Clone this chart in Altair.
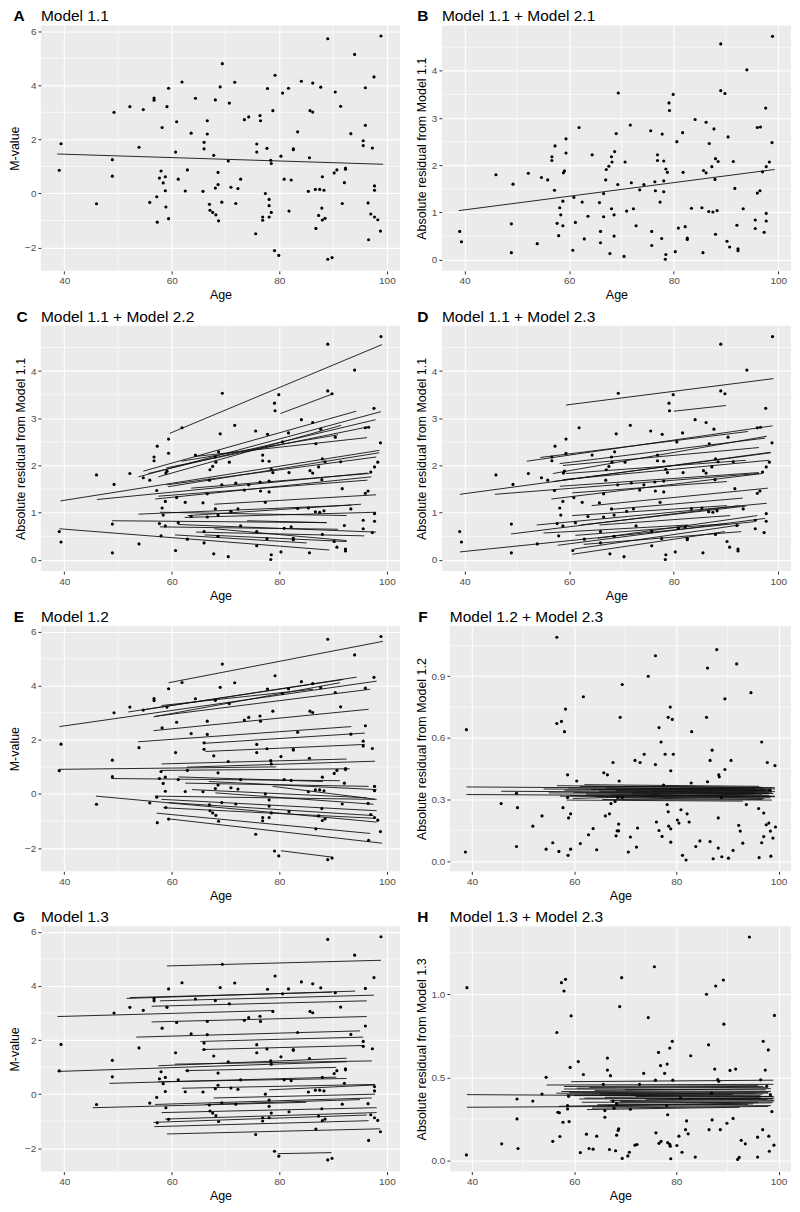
import altair as alt
import pandas as pd

FONT = "Liberation Sans"

# ---------------- shared axis ticks ----------------
X_DOMAIN = [35.66, 102.44]
X_MAJOR = [40, 60, 80, 100]
X_MINOR = [50, 70, 90]

M_DOMAIN = [-2.86, 6.21]
M_MAJOR = [-2, 0, 2, 4, 6]
M_MINOR = [-1, 1, 3, 5]

R1_DOMAIN = [-0.236, 4.96]
R1_MAJOR = [0, 1, 2, 3, 4]
R1_MINOR = [0.5, 1.5, 2.5, 3.5, 4.5]

R2_DOMAIN = [-0.05, 1.145]
R2_MAJOR = [0.0, 0.3, 0.6, 0.9]
R2_MINOR = [0.15, 0.45, 0.75, 1.05]

R3_DOMAIN = [-0.067, 1.41]
R3_MAJOR = [0.0, 0.5, 1.0]
R3_MINOR = [0.25, 0.75, 1.25]

# ---------------- subjects: age and M-value ----------------
age = [39.07, 39.4, 46.0, 48.95, 48.95, 49.26, 52.2, 53.9, 54.7, 55.9,
       56.7, 56.7, 57.2, 57.3, 57.7, 58.0, 58.2, 58.4, 58.8, 58.8,
       58.9, 59.1, 59.4, 59.4, 60.7, 60.9, 61.2, 61.9, 62.5, 62.9,
       63.6, 64.4, 65.8, 66.0, 66.0, 66.6, 66.6, 67.0, 67.1, 67.6,
       67.8, 68.1, 68.1, 68.2, 68.6, 68.6, 68.7, 69.0, 69.3, 69.4,
       70.5, 70.7, 71.0, 71.7, 71.9, 72.3, 72.8, 73.5, 74.3, 75.6,
       75.8, 75.8, 76.4, 76.5, 76.9, 76.9, 77.4, 77.7, 77.8, 78.1,
       78.1, 78.1, 78.4, 78.5, 78.5, 78.8, 79.1, 79.2, 79.9, 80.3,
       80.6, 80.9, 81.7, 81.8, 82.2, 82.6, 82.6, 83.4, 84.1, 85.4,
       85.6, 85.7, 86.2, 86.2, 86.7, 86.8, 87.3, 87.5, 87.7, 87.9,
       88.0, 88.0, 88.3, 88.5, 89.0, 89.0, 89.8, 90.2, 90.4, 90.7,
       91.4, 91.7, 92.1, 92.3, 92.3, 93.3, 94.0, 95.6, 95.6, 96.0,
       96.0, 96.5, 96.6, 97.0, 97.3, 97.6, 97.7, 97.7, 97.7, 98.3,
       98.8, 98.9]

m_value = [0.86, 1.84, -0.38, 1.25, 0.64, 3.0, 3.21, 1.71, 3.10, -0.33,
           3.53, 3.45, -0.12, -1.06, 0.57, 0.83, 2.44, 0.39, 0.62, 0.10,
           -0.50, 3.21, 3.89, -0.93, 1.53, 2.65, 0.53, 4.12, 0.09, 0.87,
           2.23, 3.52, 0.08, 1.89, 1.65, 2.69, 2.20, -0.40, -0.62, -0.70,
           1.41, 3.46, 0.20, -0.79, 0.78, 0.33, -1.01, 3.94, -0.32, 4.80,
           1.20, 3.34, 0.23, 4.11, -0.37, 0.18, 0.53, 2.73, 2.83, -1.49,
           1.83, 1.53, 2.88, 2.69, -0.87, -0.99, 0.00, 1.67, 3.88, -0.22,
           -0.45, -0.87, 1.23, 1.11, -0.70, 3.06, -2.11, 4.37, -2.29, 1.38,
           3.71, 0.53, 3.89, -0.65, 0.50, 1.65, 1.62, 2.28, 4.15, 0.08,
           1.32, 3.06, 4.08, 3.01, 0.15, -1.29, -0.81, 0.15, 3.93, -0.54,
           0.62, -0.98, 0.12, -0.92, 5.72, -2.43, -2.37, 0.76, 3.75, 0.87,
           3.22, -0.37, 0.40, 0.94, 0.90, 2.21, 5.14, 1.95, 1.77, 3.91,
           2.52, -0.35, -1.71, -0.76, 1.68, 4.31, 0.28, 0.12, -0.87, -0.97,
           -1.39, 5.82]

# absolute residual from Model 1.1
resid_11 = [0.60, 0.38, 1.80, 0.15, 0.76, 1.60, 1.83, 0.34, 1.74, 1.69,
            2.18, 2.10, 1.47, 2.41, 0.77, 0.51, 1.10, 0.95, 0.72, 1.24,
            1.84, 1.88, 2.56, 2.26, 0.20, 1.32, 0.79, 2.80, 1.22, 0.44,
            0.92, 2.22, 1.21, 0.60, 0.36, 1.40, 0.91, 1.69, 1.91, 1.98,
            0.13, 2.18, 1.08, 2.07, 0.50, 0.95, 2.29, 2.67, 1.59, 3.53,
            0.07, 2.07, 1.03, 2.85, 1.63, 1.08, 0.72, 1.48, 1.59, 2.73,
            0.60, 0.30, 1.65, 1.46, 2.10, 2.22, 1.22, 0.45, 2.66, 1.44,
            1.67, 2.09, 0.01, 0.11, 1.92, 1.85, 3.32, 3.16, 3.50, 0.17,
            2.50, 0.67, 2.69, 1.85, 0.70, 0.46, 0.43, 1.09, 2.97, 1.10,
            0.15, 1.89, 2.91, 1.84, 1.02, 2.46, 1.97, 1.01, 2.77, 1.70,
            0.54, 2.14, 1.04, 2.08, 4.57, 3.58, 3.52, 0.39, 2.60, 0.27,
            2.08, 1.51, 0.73, 0.19, 0.23, 1.08, 4.02, 0.84, 0.66, 2.80,
            1.41, 1.46, 2.81, 1.86, 0.58, 3.21, 0.82, 0.98, 1.97, 2.07,
            2.48, 4.73]

# absolute residual from Model 1.2 (panel F)
f_age = [38.7, 38.9, 45.7, 48.7, 48.7, 48.9, 51.9, 53.7, 54.5, 55.8,
         56.6, 56.6, 57.0, 57.5, 57.8, 58.1, 58.3, 58.7, 58.7, 58.8,
         58.9, 59.3, 59.3, 60.5, 61.2, 61.8, 62.8, 63.7, 64.4, 65.8,
         66.1, 66.5, 66.9, 67.2, 67.6, 68.0, 68.2, 68.4, 68.5, 68.7,
         68.7, 68.8, 69.0, 69.4, 69.4, 70.6, 71.0, 71.9, 72.2, 72.4,
         72.9, 73.7, 74.5, 75.9, 75.9, 76.1, 76.6, 76.6, 77.0, 77.2,
         77.5, 77.8, 78.2, 78.4, 78.4, 78.5, 78.8, 78.9, 78.9, 78.9,
         79.2, 79.4, 80.2, 80.5, 80.9, 81.2, 81.9, 82.1, 82.5, 82.9,
         83.0, 83.8, 84.6, 85.9, 86.1, 86.1, 86.6, 86.6, 87.0, 87.2,
         87.9, 88.2, 88.2, 88.3, 88.4, 88.8, 88.9, 89.5, 89.5, 90.2,
         90.7, 91.1, 91.8, 92.2, 92.5, 93.0, 93.7, 94.6, 96.1, 96.2,
         96.7, 96.7, 97.1, 97.1, 97.6, 97.8, 98.1, 98.3, 98.4, 98.5,
         98.9, 99.3, 99.4]
resid_12 = [0.044, 0.64, 0.28, 0.071, 0.33, 0.26, 0.17, 0.22, 0.058, 0.089,
            1.09, 0.67, 0.047, 0.68, 0.26, 0.63, 0.74, 0.42, 0.31, 0.028,
            0.21, 0.058, 0.23, 0.39, 0.085, 0.80, 0.128, 0.158, 0.055, 0.43,
            0.22, 0.42, 0.23, 0.28, 0.48, 0.29, 0.123, 0.147, 0.31, 0.18,
            0.147, 0.39, 0.70, 0.86, 0.31, 0.044, 0.117, 0.49, 0.068, 0.161,
            0.48, 0.52, 0.90, 1.00, 0.47, 0.19, 0.65, 0.149, 0.58, 0.12,
            0.37, 0.52, 0.275, 0.24, 0.70, 0.17, 0.75, 0.157, 0.44, 0.092,
            0.69, 0.52, 0.20, 0.185, 0.25, 0.028, 0.005, 0.23, 0.19, 0.38,
            0.63, 0.071, 0.098, 0.70, 0.386, 0.94, 0.095, 0.49, 0.54, 0.011,
            1.03, 0.063, 0.21, 0.42, 0.41, 0.31, 0.021, 0.446, 0.79, 0.014,
            0.49, 0.052, 0.96, 0.174, 0.146, 0.087, 0.275, 0.82, 0.256, 0.017,
            0.58, 0.089, 0.234, 0.119, 0.177, 0.48, 0.185, 0.345, 0.146, 0.024,
            0.112, 0.465, 0.166]

# absolute residual from Model 1.3 (panel H)
h_age = [38.9, 39.0, 45.8, 48.8, 48.8, 49.0, 51.9, 53.7, 54.5, 55.8,
         56.6, 56.8, 57.1, 57.2, 57.5, 57.8, 58.0, 58.3, 58.7, 58.7,
         58.9, 59.0, 59.2, 59.4, 60.8, 61.2, 61.8, 62.4, 62.9, 63.7,
         64.4, 65.7, 66.0, 66.0, 66.5, 66.5, 66.9, 67.1, 67.6, 67.8,
         68.1, 68.3, 68.3, 68.6, 68.7, 68.9, 69.3, 69.4, 70.5, 70.8,
         71.0, 71.9, 72.3, 72.8, 73.6, 74.5, 75.7, 75.9, 76.0, 76.5,
         76.6, 76.9, 77.0, 77.7, 78.1, 78.2, 78.3, 78.3, 78.7, 78.7,
         78.8, 78.9, 79.2, 79.3, 80.1, 80.5, 80.8, 81.1, 81.8, 82.0,
         82.3, 82.8, 83.7, 85.9, 86.3, 86.4, 86.9, 87.0, 87.5, 87.7,
         88.1, 88.3, 88.6, 89.2, 89.3, 89.9, 90.5, 91.1, 91.6, 92.0,
         92.3, 92.7, 93.5, 94.3, 95.9, 95.9, 96.5, 96.9, 97.0, 97.4,
         97.7, 98.0, 98.1, 98.2, 98.4, 98.7, 99.1, 99.2]
resid_13 = [0.033, 1.04, 0.10, 0.37, 0.25, 0.072, 0.357, 0.40, 0.50, 0.115,
            0.77, 0.29, 0.287, 0.144, 1.07, 0.23, 1.02, 1.09, 0.33, 0.31,
            0.386, 0.234, 0.56, 0.87, 0.595, 0.047, 0.517, 0.158, 0.072, 0.068,
            0.146, 0.458, 0.30, 0.26, 0.616, 0.544, 0.066, 0.51, 0.357, 0.314,
            0.058, 0.152, 0.34, 0.18, 0.19, 0.926, 1.10, 0.012, 0.027, 0.049,
            0.308, 0.092, 0.096, 0.458, 0.524, 0.86, 1.166, 0.483, 0.166, 0.65,
            0.103, 0.571, 0.115, 0.524, 0.33, 0.58, 0.275, 0.107, 0.676, 0.097,
            0.086, 0.01, 0.717, 0.483, 0.09, 0.146, 0.376, 0.049, 0.185, 0.238,
            0.16, 0.63, 0.02, 1.0, 0.696, 0.185, 0.405, 0.244, 0.55, 1.05,
            0.487, 0.476, 0.185, 1.086, 0.82, 0.224, 0.542, 0.253, 0.55, 0.006,
            0.018, 0.121, 0.10, 1.345, 0.14, 0.02, 0.485, 0.185, 0.717, 0.544,
            0.446, 0.665, 0.146, 0.055, 0.396, 0.294, 0.092, 0.873]

# ---------------- fitted line segments (start/end age and value) ----------------
a_x1, a_y1, a_x2, a_y2 = [38.7], [1.46], [99.3], [1.08]
b_x1, b_y1, b_x2, b_y2 = [38.9], [1.04], [99.3], [1.91]

c_x1 = [59.6, 80.2, 54.7, 53.8, 55.6, 57.5, 59.0, 61.8, 64.2, 39.3, 59.0, 46.1, 56.9, 57.5, 63.6,
        67.9, 53.8, 62.4, 57.8, 48.9, 61.2, 57.8, 64.5, 67.9, 39.1, 66.1, 74.0, 60.6, 63.0, 59.3]
c_y1 = [2.68, 3.10, 1.88, 1.76, 1.83, 1.76, 1.95, 2.09, 2.19, 1.25, 1.59, 1.28, 1.29, 1.35, 1.52,
        1.18, 0.97, 0.90, 1.01, 0.83, 0.75, 0.70, 0.59, 0.66, 0.66, 0.53, 0.83, 0.53, 0.94, 1.55]
c_x2 = [99.1, 90.0, 94.3, 98.9, 97.9, 91.5, 96.6, 90.9, 96.3, 98.6, 98.0, 96.4, 97.1, 96.4, 96.7,
        98.0, 93.4, 98.0, 92.5, 88.8, 98.0, 90.9, 95.8, 92.5, 89.3, 92.5, 88.8, 85.1, 95.2, 98.6]
c_y2 = [4.56, 3.52, 3.15, 3.14, 2.97, 2.85, 2.82, 2.65, 2.59, 2.32, 2.18, 1.84, 1.76, 1.69, 1.83,
        1.38, 1.16, 1.01, 0.94, 0.79, 0.59, 0.65, 0.51, 0.41, 0.21, 0.39, 0.79, 0.36, 1.18, 2.27]

d_x1 = [59.4, 80.0, 39.1, 45.8, 51.9, 54.5, 56.9, 58.2, 58.8, 56.9, 58.8, 58.2, 56.6, 60.6, 64.3,
        68.0, 53.8, 48.9, 60.6, 62.2, 65.8, 39.1, 57.8, 60.9, 60.6, 62.8, 65.5, 61.2, 55.1, 59.4]
d_y1 = [3.28, 3.15, 1.39, 1.39, 2.09, 2.17, 1.83, 2.04, 2.00, 1.66, 1.70, 1.56, 1.29, 1.42, 1.15,
        1.07, 0.74, 0.55, 0.94, 0.74, 0.74, 0.17, 0.31, 0.23, 0.12, 0.33, 0.46, 0.52, 0.57, 1.83]
d_x2 = [99.1, 90.0, 98.5, 96.3, 98.9, 94.2, 97.8, 97.5, 96.3, 98.6, 98.2, 96.3, 96.9, 90.2, 98.0,
        93.2, 97.8, 92.6, 90.2, 93.8, 90.8, 95.4, 97.5, 92.6, 89.8, 92.9, 96.0, 90.2, 82.8, 93.8]
d_y2 = [3.84, 3.27, 2.28, 1.83, 2.84, 2.72, 2.62, 2.58, 2.38, 2.27, 2.11, 1.85, 1.83, 1.66, 1.52,
        1.31, 1.20, 1.15, 1.15, 1.14, 0.94, 0.81, 0.88, 0.74, 0.60, 0.60, 0.94, 0.77, 0.74, 2.11]

e_x1 = [59.4, 39.1, 54.7, 51.9, 56.6, 56.9, 58.1, 56.6, 53.75, 65.9, 66.25, 39.1, 58.1, 62.8, 48.75,
        61.25, 66.9, 62.5, 45.9, 56.9, 58.1, 59.4, 58.4, 57.2, 59.4, 80.3, 78.75, 68.1, 63.75, 58.1]
e_y1 = [4.11, 2.49, 3.11, 3.03, 2.85, 2.87, 3.27, 2.34, 1.93, 1.87, 1.57, 0.91, 1.11, 0.99, 0.57,
        0.63, 0.46, 0.40, -0.08, -0.08, -0.20, -0.32, -0.51, -0.71, -0.92, -2.10, 0.28, 0.04, 0.16, 0.87]
e_x2 = [99.25, 98.1, 94.4, 91.9, 91.25, 96.9, 86.25, 96.6, 93.4, 95.9, 95.9, 79.4, 92.5, 97.8, 91.25,
        88.1, 98.1, 96.6, 98.1, 97.8, 98.1, 97.5, 97.8, 96.9, 99.1, 90.0, 98.1, 97.5, 96.25, 93.1]
e_y2 = [5.64, 4.17, 4.32, 4.23, 4.11, 3.87, 3.87, 3.13, 2.49, 2.25, 1.83, 1.00, 1.29, 1.21, 0.49,
        0.46, 0.16, 0.28, -1.04, -0.20, -0.62, -0.80, -0.90, -1.46, -1.82, -2.34, -0.20, -0.38, -0.14, 0.93]

f_x1 = [38.9, 38.9, 45.7, 54.0, 55.0, 56.6, 57.2, 58.1, 58.8, 59.1, 59.8, 61.1, 62.3, 63.3, 64.3,
        64.9, 66.2, 67.1, 68.1, 68.7, 71.3, 72.6, 73.9, 75.2, 58.5, 62.0, 65.5, 69.9, 59.7]
f_y1 = [0.361, 0.324, 0.340, 0.351, 0.332, 0.367, 0.316, 0.345, 0.356, 0.319, 0.335, 0.364, 0.326,
        0.348, 0.313, 0.340, 0.356, 0.322, 0.343, 0.307, 0.332, 0.351, 0.318, 0.340, 0.297, 0.372,
        0.300, 0.364, 0.305]
f_x2 = [99.3, 99.3, 98.1, 98.7, 96.8, 98.7, 98.4, 98.1, 97.2, 99.3, 99.0, 96.8, 98.1, 97.5, 97.2,
        98.7, 95.6, 98.4, 99.3, 96.8, 98.1, 97.5, 98.7, 95.5, 93.0, 96.2, 98.7, 99.3, 95.3]
f_y2 = [0.351, 0.316, 0.332, 0.343, 0.326, 0.356, 0.308, 0.348, 0.351, 0.313, 0.329, 0.359, 0.321,
        0.342, 0.305, 0.335, 0.351, 0.316, 0.338, 0.300, 0.329, 0.345, 0.315, 0.335, 0.292, 0.364,
        0.297, 0.357, 0.327]

g_x1 = [59.1, 38.75, 51.6, 52.2, 56.25, 57.8, 56.25, 53.4, 65.3, 65.6, 38.75, 57.5, 60.6, 48.4,
        61.9, 67.8, 45.3, 56.9, 58.1, 56.6, 58.75, 56.75, 59.1, 79.7, 78.1, 66.25, 62.5, 57.5]
g_y1 = [4.74, 2.87, 3.54, 3.57, 3.25, 3.45, 2.67, 2.11, 1.95, 1.65, 0.84, 1.05, 1.11, 0.40,
        0.22, -0.14, -0.50, -0.38, -0.68, -1.04, -0.92, -1.20, -1.47, -2.20, 0.16, -0.38, 0.87, 0.46]
g_x2 = [98.9, 78.75, 94.1, 89.7, 96.25, 97.6, 96.25, 95.0, 95.6, 95.6, 92.5, 92.5, 97.2, 90.6,
        97.8, 97.8, 85.0, 97.2, 98.1, 96.25, 98.1, 96.6, 98.75, 89.7, 97.8, 95.0, 90.6, 92.5]
g_y2 = [4.95, 3.09, 3.81, 3.77, 3.45, 3.66, 2.87, 2.34, 2.11, 1.80, 1.20, 1.33, 1.23, 0.63,
        0.36, 0.00, -0.30, -0.14, -0.50, -0.77, -0.68, -0.98, -1.28, -2.16, 0.34, -0.20, 0.99, 0.58]

h_x1 = [39.0, 39.0, 54.6, 59.4, 57.0, 58.0, 59.0, 60.0, 61.0, 62.5, 63.0, 64.0, 65.0, 66.0, 67.0,
        68.0, 57.5, 58.5, 61.5, 64.5, 70.0, 72.0, 74.0, 56.5, 60.5, 62.0, 69.0, 66.5, 58.0, 63.5]
h_y1 = [0.396, 0.320, 0.454, 0.474, 0.326, 0.430, 0.410, 0.390, 0.370, 0.306, 0.440, 0.420, 0.400,
        0.380, 0.360, 0.345, 0.415, 0.395, 0.350, 0.335, 0.425, 0.385, 0.365, 0.405, 0.435, 0.375,
        0.355, 0.330, 0.445, 0.315]
h_x2 = [99.0, 98.5, 99.0, 99.0, 98.7, 97.5, 98.0, 96.5, 99.2, 92.4, 97.0, 98.5, 95.5, 99.0, 97.8,
        96.0, 98.0, 97.0, 99.0, 95.0, 98.5, 96.5, 99.0, 91.0, 97.5, 98.8, 99.2, 94.0, 96.0, 98.0]
h_y2 = [0.385, 0.330, 0.458, 0.483, 0.347, 0.425, 0.405, 0.392, 0.375, 0.320, 0.446, 0.415, 0.405,
        0.385, 0.368, 0.350, 0.410, 0.400, 0.352, 0.340, 0.432, 0.380, 0.370, 0.398, 0.440, 0.372,
        0.360, 0.338, 0.450, 0.325]

H_PLOT = 246


def panel(letter, title, px, py, sx1, sy1, sx2, sy2, ydom, ymaj, ymin, ytitle, yfmt,
          width, letter_dx):
    xs = alt.Scale(domain=X_DOMAIN, nice=False, zero=False)
    ys = alt.Scale(domain=ydom, nice=False, zero=False)
    xaxis = alt.Axis(values=X_MAJOR, title="Age", format="d")
    yaxis = alt.Axis(values=ymaj, title=ytitle, format=yfmt)

    minor_x = alt.Chart(pd.DataFrame({"mx": X_MINOR})).mark_rule(
        color="white", strokeWidth=0.6).encode(x=alt.X("mx:Q", scale=xs, axis=xaxis))
    minor_y = alt.Chart(pd.DataFrame({"my": ymin})).mark_rule(
        color="white", strokeWidth=0.6).encode(y=alt.Y("my:Q", scale=ys, axis=yaxis))
    segs = alt.Chart(pd.DataFrame({"x1": sx1, "y1": sy1, "x2": sx2, "y2": sy2})).mark_rule(
        color="#111111", strokeWidth=0.9).encode(
        x=alt.X("x1:Q", scale=xs, axis=xaxis), y=alt.Y("y1:Q", scale=ys, axis=yaxis),
        x2="x2:Q", y2="y2:Q")
    pts = alt.Chart(pd.DataFrame({"Age": px, "v": py})).mark_circle(
        color="black", size=10, opacity=1).encode(
        x=alt.X("Age:Q", scale=xs, axis=xaxis), y=alt.Y("v:Q", scale=ys, axis=yaxis))
    lab = alt.Chart(pd.DataFrame({"t": [letter]})).mark_text(
        font=FONT, fontSize=15.5, fontWeight="bold", color="black",
        align="center", baseline="alphabetic").encode(
        x=alt.value(letter_dx), y=alt.value(-4), text="t:N")
    ttl = alt.Chart(pd.DataFrame({"t": [title]})).mark_text(
        font=FONT, fontSize=15.5, fontWeight="normal", color="black",
        align="left", baseline="alphabetic").encode(
        x=alt.value(0), y=alt.value(-4), text="t:N")
    return alt.layer(minor_x, minor_y, segs, pts, lab, ttl).properties(
        width=width, height=H_PLOT)


pA = panel("A", "Model 1.1", age, m_value, a_x1, a_y1, a_x2, a_y2,
           M_DOMAIN, M_MAJOR, M_MINOR, "M-value", "d", 360, -22)
pB = panel("B", "Model 1.1 + Model 2.1", age, resid_11, b_x1, b_y1, b_x2, b_y2,
           R1_DOMAIN, R1_MAJOR, R1_MINOR, "Absolute residual from Model 1.1", "d", 350, -19)
pC = panel("C", "Model 1.1 + Model 2.2", age, resid_11, c_x1, c_y1, c_x2, c_y2,
           R1_DOMAIN, R1_MAJOR, R1_MINOR, "Absolute residual from Model 1.1", "d", 360, -19)
pD = panel("D", "Model 1.1 + Model 2.3", age, resid_11, d_x1, d_y1, d_x2, d_y2,
           R1_DOMAIN, R1_MAJOR, R1_MINOR, "Absolute residual from Model 1.1", "d", 350, -19)
pE = panel("E", "Model 1.2", age, m_value, e_x1, e_y1, e_x2, e_y2,
           M_DOMAIN, M_MAJOR, M_MINOR, "M-value", "d", 360, -22)
pF = panel("F", "Model 1.2 + Model 2.3", f_age, resid_12, f_x1, f_y1, f_x2, f_y2,
           R2_DOMAIN, R2_MAJOR, R2_MINOR, "Absolute residual from Model 1.2", ".1f", 342, -27)
pG = panel("G", "Model 1.3", age, m_value, g_x1, g_y1, g_x2, g_y2,
           M_DOMAIN, M_MAJOR, M_MINOR, "M-value", "d", 360, -22)
pH = panel("H", "Model 1.3 + Model 2.3", h_age, resid_13, h_x1, h_y1, h_x2, h_y2,
           R3_DOMAIN, R3_MAJOR, R3_MINOR, "Absolute residual from Model 1.3", ".1f", 342, -27)

rows = [alt.hconcat(l, r, spacing=14) for l, r in [(pA, pB), (pC, pD), (pE, pF), (pG, pH)]]

chart = alt.vconcat(*rows, spacing=8).properties(padding=0).configure(
    font=FONT, background="white"
).configure_view(
    fill="#EBEBEB", stroke=None
).configure_axis(
    domain=False, grid=True, gridColor="white", gridWidth=1.1,
    tickColor="#333333", tickSize=3, tickWidth=1,
    labelColor="#4D4D4D", labelFontSize=10, labelFont=FONT, labelPadding=2,
    titleColor="black", titleFontSize=12.5, titleFontWeight="normal", titleFont=FONT,
    titlePadding=3
)

chart.save("out.html", embed_options={"renderer": "svg", "actions": False})
